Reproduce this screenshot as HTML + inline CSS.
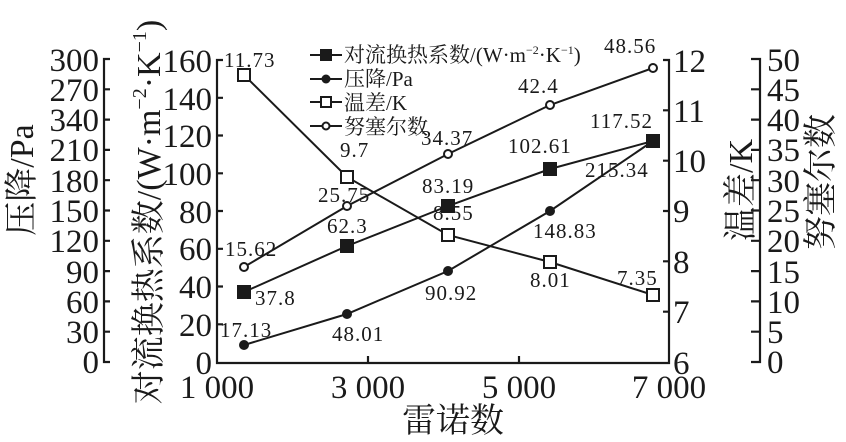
<!DOCTYPE html>
<html><head><meta charset="utf-8"><style>
html,body{margin:0;padding:0;background:#fff;}
svg{display:block;font-family:"Liberation Serif","Noto Serif CJK SC",serif;}
</style></head><body>
<svg width="846" height="442" viewBox="0 0 846 442" xmlns="http://www.w3.org/2000/svg">
<g stroke="#1a1a1a" stroke-width="2.2" fill="none">
<!-- pressure axis -->
<path d="M110 59 H104 V362 H110"/>
<path d="M104 89.3H110M104 119.6H110M104 149.9H110M104 180.2H110M104 210.5H110M104 240.8H110M104 271.1H110M104 301.4H110M104 331.7H110"/>
<!-- main box -->
<path d="M223 60 H217 V363 H669 V60 H663"/>
<path d="M217 97.8H223M217 135.5H223M217 173.3H223M217 211H223M217 248.8H223M217 286.5H223M217 324.3H223"/>
<path d="M368 363V356M519 363V356"/>
<path d="M669 110.3H663M669 160.7H663M669 211H663M669 261.3H663M669 311.7H663"/>
<!-- far right axis -->
<path d="M751 59 H760 V362 H751"/>
<path d="M760 89.3H751M760 119.6H751M760 149.9H751M760 180.2H751M760 210.5H751M760 240.8H751M760 271.1H751M760 301.4H751M760 331.7H751"/>
</g>
<g font-size="33" fill="#1a1a1a" text-anchor="end">
<text x="99" y="71">300</text><text x="99" y="101">270</text><text x="99" y="131">340</text><text x="99" y="161">210</text><text x="99" y="192">180</text><text x="99" y="222">150</text><text x="99" y="252">120</text><text x="99" y="283">90</text><text x="99" y="313">60</text><text x="99" y="343">30</text><text x="99" y="373">0</text>
<text x="212" y="72">160</text><text x="212" y="110">140</text><text x="212" y="147">120</text><text x="212" y="185">100</text><text x="212" y="223">80</text><text x="212" y="260">60</text><text x="212" y="298">40</text><text x="212" y="336">20</text><text x="212" y="374">0</text>
</g>
<g font-size="33" fill="#1a1a1a" text-anchor="start">
<text x="673" y="72">12</text><text x="673" y="122">11</text><text x="673" y="172">10</text><text x="673" y="222">9</text><text x="673" y="273">8</text><text x="673" y="323">7</text><text x="673" y="374">6</text>
<text x="767" y="71">50</text><text x="767" y="101">45</text><text x="767" y="131">40</text><text x="767" y="161">35</text><text x="767" y="192">30</text><text x="767" y="222">25</text><text x="767" y="252">20</text><text x="767" y="283">15</text><text x="767" y="313">10</text><text x="767" y="343">5</text><text x="767" y="373">0</text>
</g>
<g font-size="33" fill="#1a1a1a" text-anchor="middle">
<text x="217" y="398">1 000</text><text x="368" y="398">3 000</text><text x="519" y="398">5 000</text><text x="669" y="398">7 000</text>
<text x="453" y="432" font-size="34">雷诺数</text>
</g>
<text transform="translate(33,180) rotate(-90)" font-size="34" text-anchor="middle" fill="#1a1a1a">压降/Pa</text>
<text transform="translate(160,212) rotate(-90)" font-size="34" text-anchor="middle" fill="#1a1a1a">对流换热系数/(W·m<tspan font-size="20" dy="-14">−2</tspan><tspan dy="14">·K</tspan><tspan font-size="20" dy="-14">−1</tspan><tspan dy="14">)</tspan></text>
<text transform="translate(752,190) rotate(-90)" font-size="34" text-anchor="middle" fill="#1a1a1a">温差/K</text>
<text transform="translate(832,182) rotate(-90)" font-size="34" text-anchor="middle" fill="#1a1a1a">努塞尔数</text>
<!-- series -->
<g stroke="#1a1a1a" stroke-width="2" fill="none">
<polyline points="244,292 347,246 448,206 550,169 653,141"/>
<polyline points="244,345 347,314 448,271 550,211 653,141"/>
<polyline points="244,75 347,177 448,235 550,262 653,295"/>
<polyline points="244,267 347,206 448,154 550,105 653,68"/>
</g>
<g fill="#1a1a1a">
<rect x="237" y="285" width="14" height="14"/><rect x="340" y="239" width="14" height="14"/><rect x="441" y="199" width="14" height="14"/><rect x="543" y="162" width="14" height="14"/><rect x="646" y="134" width="14" height="14"/>
<circle cx="244" cy="345" r="5"/><circle cx="347" cy="314" r="5"/><circle cx="448" cy="271" r="5"/><circle cx="550" cy="211" r="5"/>
</g>
<g fill="#fff" stroke="#1a1a1a" stroke-width="2">
<rect x="238" y="69" width="12" height="12"/><rect x="341" y="171" width="12" height="12"/><rect x="442" y="229" width="12" height="12"/><rect x="544" y="256" width="12" height="12"/><rect x="647" y="289" width="12" height="12"/>
<circle cx="244" cy="267" r="4"/><circle cx="347" cy="206" r="4"/><circle cx="448" cy="154" r="4"/><circle cx="550" cy="105" r="4"/><circle cx="653" cy="68" r="4"/>
</g>
<g font-size="21" fill="#1a1a1a" letter-spacing="1">
<text x="224" y="67">11.73</text><text x="225" y="256">15.62</text><text x="255" y="305">37.8</text><text x="220" y="337">17.13</text>
<text x="318" y="202">25.75</text><text x="340" y="157">9.7</text><text x="327" y="233">62.3</text><text x="332" y="341">48.01</text>
<text x="421" y="145">34.37</text><text x="422" y="193">83.19</text><text x="433" y="220">8.55</text><text x="425" y="300">90.92</text>
<text x="518" y="93">42.4</text><text x="508" y="153">102.61</text><text x="533" y="238">148.83</text><text x="530" y="287">8.01</text>
<text x="604" y="53">48.56</text><text x="590" y="128">117.52</text><text x="585" y="177">215.34</text><text x="617" y="285">7.35</text>
</g>
<!-- legend -->
<g stroke="#1a1a1a" stroke-width="2">
<line x1="310" y1="55" x2="342" y2="55"/><line x1="310" y1="79" x2="342" y2="79"/><line x1="310" y1="102" x2="342" y2="102"/><line x1="310" y1="126" x2="342" y2="126"/>
</g>
<rect x="320" y="49" width="12" height="12" fill="#1a1a1a"/>
<circle cx="326" cy="79" r="4.5" fill="#1a1a1a"/>
<rect x="321" y="97" width="10" height="10" fill="#fff" stroke="#1a1a1a" stroke-width="2"/>
<circle cx="326" cy="126" r="3.5" fill="#fff" stroke="#1a1a1a" stroke-width="2"/>
<g font-size="21" fill="#1a1a1a">
<text x="344" y="62">对流换热系数/(W·m<tspan font-size="12" dy="-8">−2</tspan><tspan dy="8">·K</tspan><tspan font-size="12" dy="-8">−1</tspan><tspan dy="8">)</tspan></text>
<text x="344" y="86">压降/Pa</text>
<text x="344" y="110">温差/K</text>
<text x="344" y="134">努塞尔数</text>
</g>
</svg>
</body></html>
